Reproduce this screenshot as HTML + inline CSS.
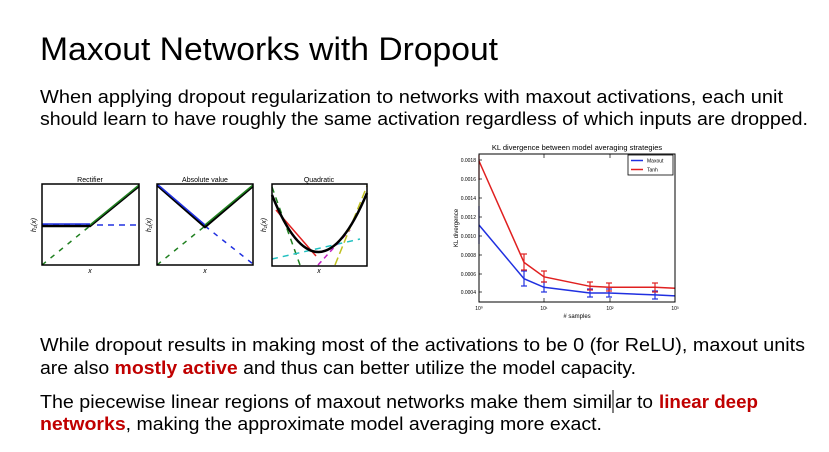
<!DOCTYPE html>
<html><head><meta charset="utf-8"><style>
html,body{margin:0;padding:0;background:#fff;}
svg{display:block;}
text{font-family:"Liberation Sans",sans-serif;}
</style></head><body>
<svg width="829" height="452" viewBox="0 0 829 452" xmlns="http://www.w3.org/2000/svg">
<rect width="829" height="452" fill="#fff"/>
<text x="40" y="60" font-size="32" fill="#000" textLength="458" lengthAdjust="spacingAndGlyphs">Maxout Networks with Dropout</text>
<text x="40" y="103" font-size="18" fill="#000" textLength="743" lengthAdjust="spacingAndGlyphs">When applying dropout regularization to networks with maxout activations, each unit</text>
<text x="40" y="125" font-size="18" fill="#000" textLength="768" lengthAdjust="spacingAndGlyphs">should learn to have roughly the same activation regardless of which inputs are dropped.</text>

<text x="40" y="351" font-size="18" fill="#000" textLength="765" lengthAdjust="spacingAndGlyphs">While dropout results in making most of the activations to be 0 (for ReLU), maxout units</text>
<text x="40" y="374" font-size="18" fill="#000" textLength="596" lengthAdjust="spacingAndGlyphs">are also <tspan fill="#c00000" font-weight="bold">mostly active</tspan> and thus can better utilize the model capacity.</text>
<text x="40" y="408" font-size="18" fill="#000" textLength="572" lengthAdjust="spacingAndGlyphs">The piecewise linear regions of maxout networks make them simil</text>
<text x="615" y="408" font-size="18" fill="#000" textLength="38" lengthAdjust="spacingAndGlyphs">ar to</text>
<text x="659" y="408" font-size="18" fill="#c00000" font-weight="bold" textLength="99" lengthAdjust="spacingAndGlyphs">linear deep</text>
<line x1="613" y1="390" x2="613" y2="413" stroke="#000" stroke-width="1"/>
<text x="40" y="430" font-size="18" fill="#000" textLength="562" lengthAdjust="spacingAndGlyphs"><tspan fill="#c00000" font-weight="bold">networks</tspan>, making the approximate model averaging more exact.</text>

<!-- Plot 1 Rectifier -->
<g>
<text x="90" y="182" font-size="7" text-anchor="middle">Rectifier</text>
<line x1="42" y1="225" x2="139" y2="225" stroke="#2030e0" stroke-width="1.5" stroke-dasharray="6,5"/>
<line x1="42" y1="265" x2="139" y2="186" stroke="#208020" stroke-width="1.5" stroke-dasharray="5,6"/>
<polyline points="42,226 90,226 139,186" fill="none" stroke="#000" stroke-width="2.5"/>
<line x1="42" y1="224" x2="90" y2="224" stroke="#2030e0" stroke-width="1.5"/>
<line x1="90" y1="225" x2="139" y2="185" stroke="#208020" stroke-width="1.5"/>
<rect x="42" y="184" width="97" height="81" fill="none" stroke="#000" stroke-width="1.5"/>
<text x="90" y="273" font-size="7" text-anchor="middle" font-style="italic">x</text>
<text x="36" y="225" font-size="7" text-anchor="middle" font-style="italic" transform="rotate(-90 36 225)">h₁(x)</text>
</g>
<!-- Plot 2 Absolute -->
<g>
<text x="205" y="182" font-size="7" text-anchor="middle">Absolute value</text>
<line x1="205" y1="226" x2="253" y2="264" stroke="#2030e0" stroke-width="1.5" stroke-dasharray="5,6"/>
<line x1="157" y1="265" x2="205" y2="226" stroke="#208020" stroke-width="1.5" stroke-dasharray="5,6"/>
<polyline points="157,185 205,227 253,186" fill="none" stroke="#000" stroke-width="2.5"/>
<line x1="157" y1="184" x2="205" y2="225" stroke="#2030e0" stroke-width="1.5"/>
<line x1="205" y1="225" x2="253" y2="185" stroke="#208020" stroke-width="1.5"/>
<rect x="157" y="184" width="96" height="81" fill="none" stroke="#000" stroke-width="1.5"/>
<text x="205" y="273" font-size="7" text-anchor="middle" font-style="italic">x</text>
<text x="151" y="225" font-size="7" text-anchor="middle" font-style="italic" transform="rotate(-90 151 225)">h₁(x)</text>
</g>
<!-- Plot 3 Quadratic -->
<g>
<text x="319" y="182" font-size="7" text-anchor="middle">Quadratic</text>
<line x1="272" y1="187" x2="300" y2="265" stroke="#208020" stroke-width="1.5" stroke-dasharray="6,5"/>
<line x1="276" y1="210" x2="316" y2="256" stroke="#e02020" stroke-width="1.5"/>
<line x1="272" y1="259" x2="360" y2="239" stroke="#20c0c0" stroke-width="1.5" stroke-dasharray="6,5"/>
<line x1="318" y1="265" x2="350" y2="230" stroke="#c020c0" stroke-width="1.5" stroke-dasharray="5,4"/>
<line x1="335" y1="265" x2="367" y2="186" stroke="#c0c020" stroke-width="1.5" stroke-dasharray="8,4"/>
<path d="M272,195 Q318,310 367,193" fill="none" stroke="#000" stroke-width="2.5"/>
<rect x="272" y="184" width="95" height="82" fill="none" stroke="#000" stroke-width="1.5"/>
<text x="319" y="273" font-size="7" text-anchor="middle" font-style="italic">x</text>
<text x="266" y="225" font-size="7" text-anchor="middle" font-style="italic" transform="rotate(-90 266 225)">h₁(x)</text>
</g>

<!-- KL chart -->
<g font-size="5" fill="#000">
<text x="577" y="150" font-size="7.5" text-anchor="middle">KL divergence between model averaging strategies</text>
<g text-anchor="end">
<text x="476" y="162">0.0018</text>
<text x="476" y="181">0.0016</text>
<text x="476" y="200">0.0014</text>
<text x="476" y="219">0.0012</text>
<text x="476" y="238">0.0010</text>
<text x="476" y="257">0.0008</text>
<text x="476" y="276">0.0006</text>
<text x="476" y="294">0.0004</text>
</g>
<text x="458" y="228" font-size="6" text-anchor="middle" transform="rotate(-90 458 228)">KL divergence</text>
<text x="479" y="310" text-anchor="middle">10⁰</text>
<text x="544" y="310" text-anchor="middle">10¹</text>
<text x="610" y="310" text-anchor="middle">10²</text>
<text x="675" y="310" text-anchor="middle">10³</text>
<text x="577" y="318" font-size="6" text-anchor="middle"># samples</text>
<g stroke="#000" stroke-width="0.7">
<line x1="479" y1="160" x2="482" y2="160"/><line x1="479" y1="179" x2="482" y2="179"/><line x1="479" y1="198" x2="482" y2="198"/><line x1="479" y1="217" x2="482" y2="217"/><line x1="479" y1="236" x2="482" y2="236"/><line x1="479" y1="255" x2="482" y2="255"/><line x1="479" y1="274" x2="482" y2="274"/><line x1="479" y1="292" x2="482" y2="292"/>
<line x1="544" y1="302" x2="544" y2="298"/><line x1="610" y1="302" x2="610" y2="298"/>
<line x1="544" y1="154" x2="544" y2="158"/><line x1="610" y1="154" x2="610" y2="158"/>
</g>
<g stroke="#2030e0" stroke-width="1.2">
<line x1="479" y1="206" x2="479" y2="244"/>
<line x1="524" y1="271" x2="524" y2="286"/><line x1="521" y1="271" x2="527" y2="271"/><line x1="521" y1="286" x2="527" y2="286"/>
<line x1="544" y1="282" x2="544" y2="292"/><line x1="541" y1="282" x2="547" y2="282"/><line x1="541" y1="292" x2="547" y2="292"/>
<line x1="590" y1="289" x2="590" y2="297"/><line x1="587" y1="289" x2="593" y2="289"/><line x1="587" y1="297" x2="593" y2="297"/>
<line x1="609" y1="289" x2="609" y2="297"/><line x1="606" y1="289" x2="612" y2="289"/><line x1="606" y1="297" x2="612" y2="297"/>
<line x1="655" y1="291" x2="655" y2="299"/><line x1="652" y1="291" x2="658" y2="291"/><line x1="652" y1="299" x2="658" y2="299"/>
</g>
<g stroke="#e02020" stroke-width="1.2">
<line x1="479" y1="155" x2="479" y2="180"/>
<line x1="524" y1="254" x2="524" y2="270"/><line x1="521" y1="254" x2="527" y2="254"/><line x1="521" y1="270" x2="527" y2="270"/>
<line x1="544" y1="271" x2="544" y2="282"/><line x1="541" y1="271" x2="547" y2="271"/><line x1="541" y1="282" x2="547" y2="282"/>
<line x1="590" y1="282" x2="590" y2="290"/><line x1="587" y1="282" x2="593" y2="282"/><line x1="587" y1="290" x2="593" y2="290"/>
<line x1="609" y1="283" x2="609" y2="291"/><line x1="606" y1="283" x2="612" y2="283"/><line x1="606" y1="291" x2="612" y2="291"/>
<line x1="655" y1="283" x2="655" y2="292"/><line x1="652" y1="283" x2="658" y2="283"/><line x1="652" y1="292" x2="658" y2="292"/>
</g>
<polyline points="479,225 524,278.7 544,287.3 590,293 609,293 655,294.9 675,295.9" fill="none" stroke="#2030e0" stroke-width="1.5"/>
<polyline points="479,161 524,262.4 544,276.8 590,286.3 609,287.3 655,287.3 675,288.2" fill="none" stroke="#e02020" stroke-width="1.5"/>
<rect x="479" y="154" width="196" height="148" fill="none" stroke="#000" stroke-width="1"/>
<rect x="628" y="155" width="45" height="20" fill="#fff" stroke="#000" stroke-width="0.8"/>
<line x1="631" y1="160.5" x2="643" y2="160.5" stroke="#2030e0" stroke-width="1.5"/>
<line x1="631" y1="169.5" x2="643" y2="169.5" stroke="#e02020" stroke-width="1.5"/>
<text x="647" y="162.5">Maxout</text>
<text x="647" y="171.5">Tanh</text>
</g>
</svg>
</body></html>
